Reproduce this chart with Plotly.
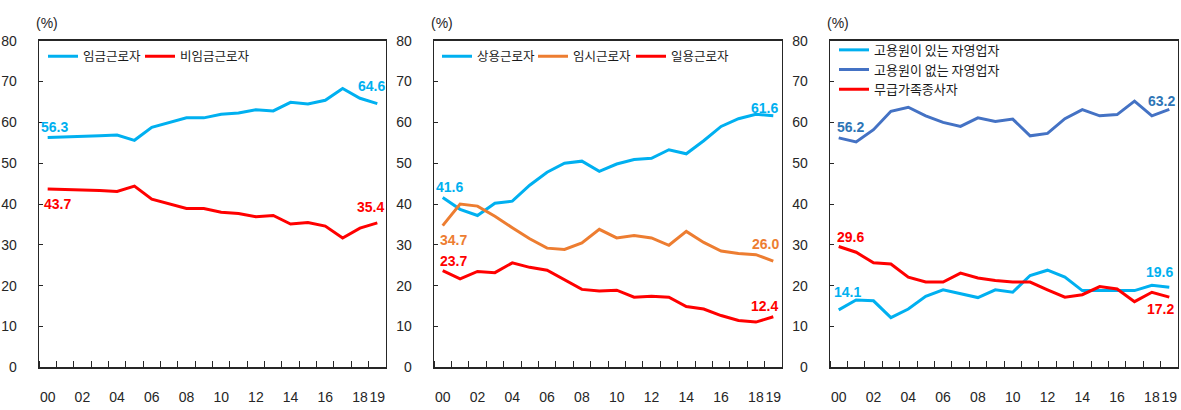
import plotly.graph_objects as go

W, H = 1181, 410

years = list(range(2000, 2020))
tick_years = [2000, 2002, 2004, 2006, 2008, 2010, 2012, 2014, 2016, 2018, 2019]
tick_labels = ["00", "02", "04", "06", "08", "10", "12", "14", "16", "18", "19"]

# Panel 1
wage = [56.3, 56.4, 56.6, 56.7, 56.9, 55.6, 58.8, 59.9, 61.1, 61.1, 62.0, 62.3, 63.1, 62.8, 64.9, 64.5, 65.4, 68.3, 65.9, 64.6]
nonwage = [43.7, 43.6, 43.4, 43.3, 43.1, 44.4, 41.2, 40.1, 38.9, 38.9, 38.0, 37.7, 36.9, 37.2, 35.1, 35.5, 34.6, 31.7, 34.1, 35.4]

# Panel 2
regular = [41.6, 38.7, 37.2, 40.2, 40.7, 44.6, 47.8, 50.0, 50.5, 48.0, 49.8, 50.9, 51.2, 53.3, 52.3, 55.5, 59.0, 60.9, 62.0, 61.6]
temporary = [34.7, 40.0, 39.5, 37.0, 34.2, 31.5, 29.2, 28.9, 30.5, 33.8, 31.7, 32.3, 31.7, 29.9, 33.3, 30.6, 28.5, 27.9, 27.6, 26.0]
daily = [23.7, 21.7, 23.5, 23.2, 25.6, 24.5, 23.8, 21.5, 19.1, 18.7, 18.9, 17.2, 17.4, 17.2, 14.9, 14.3, 12.7, 11.5, 11.1, 12.4]

# Panel 3
with_emp = [14.1, 16.5, 16.3, 12.2, 14.3, 17.4, 19.0, 18.1, 17.1, 19.0, 18.4, 22.5, 23.8, 22.1, 18.8, 18.8, 18.8, 18.8, 20.1, 19.6]
without_emp = [56.2, 55.2, 58.2, 62.7, 63.7, 61.6, 60.0, 59.0, 61.1, 60.2, 60.8, 56.7, 57.3, 60.9, 63.1, 61.6, 61.9, 65.2, 61.6, 63.2]
family = [29.6, 28.2, 25.6, 25.3, 22.1, 20.9, 20.9, 23.1, 21.9, 21.3, 20.9, 20.9, 19.0, 17.2, 17.8, 19.8, 19.2, 16.1, 18.4, 17.2]

SKY = "#00B0F0"
RED = "#FF0000"
ORANGE = "#ED7D31"
BLUE = "#4472C4"
BLUE_TXT = "#2E75B6"

NUM_FONT = "Liberation Sans Narrow, Arial Narrow, Liberation Sans, Arial, sans-serif"
KR_FONT = "Noto Sans CJK KR, sans-serif"

panels = [
    (39, 386),
    (434, 782),
    (830, 1178),
]
top_px, bot_px = 34, 374

fig = go.Figure()

# (panel, name, values, colour, legend line start x px, legend row centre y px)
series = [
    (1, "임금근로자", wage, SKY, 48, 56),
    (1, "비임금근로자", nonwage, RED, 145, 56),
    (2, "상용근로자", regular, SKY, 442, 56),
    (2, "임시근로자", temporary, ORANGE, 538, 56),
    (2, "일용근로자", daily, RED, 636, 56),
    (3, "고용원이 있는 자영업자", with_emp, SKY, 839, 49),
    (3, "고용원이 없는 자영업자", without_emp, BLUE, 839, 69.5),
    (3, "무급가족종사자", family, RED, 839, 90),
]

layout = dict(
    width=W, height=H,
    margin=dict(l=0, r=0, t=0, b=0),
    paper_bgcolor="white", plot_bgcolor="white",
    showlegend=True,
)

for k, (p, name, vals, col, lx, ly) in enumerate(series):
    suf = "" if p == 1 else str(p)
    leg = "legend" if k == 0 else "legend" + str(k + 1)
    fig.add_trace(go.Scatter(
        x=years, y=vals, mode="lines", name=name,
        line=dict(color=col, width=3),
        xaxis="x" + suf, yaxis="y" + suf, legend=leg,
    ))
    layout[leg] = dict(
        font=dict(family=KR_FONT, size=12.5 if p < 3 else 13, color="#1a1a1a"),
        bgcolor="rgba(0,0,0,0)", borderwidth=0,
        itemwidth=30, tracegroupgap=0,
        xanchor="left", yanchor="top",
        x=(lx - 5) / W, y=1 - (ly - 21) / H,
    )

for i, (l, r) in enumerate(panels):
    suf = "" if i == 0 else str(i + 1)
    layout["xaxis" + suf] = dict(
        domain=[l / W, r / W],
        anchor="y" + suf,
        range=[1999.5, 2019.5],
        tickmode="array", tickvals=tick_years, ticktext=tick_labels,
        tickangle=0,
        ticks="", showgrid=False, zeroline=False,
        showline=True, linecolor="#262626", linewidth=1.3, mirror=True,
        tickfont=dict(family=NUM_FONT, size=14, color="#262626"),
        ticklabelstandoff=16,
        minor=dict(ticks="inside", tick0=1999.5, dtick=1, ticklen=6,
                   tickcolor="#262626", tickwidth=1, showgrid=False),
        fixedrange=True,
    )
    layout["yaxis" + suf] = dict(
        domain=[1 - bot_px / H, 1 - top_px / H],
        anchor="x" + suf,
        range=[0, 80], tickmode="linear", tick0=0, dtick=10,
        ticks="inside", ticklen=4, tickcolor="#262626", tickwidth=1,
        showgrid=False, zeroline=False,
        showline=True, linecolor="#262626", linewidth=1.3, mirror=True,
        tickfont=dict(family=NUM_FONT, size=14, color="#262626"),
        ticklabelstandoff=18,
        fixedrange=True,
    )

fig.update_layout(**layout)

# value labels (first and last points)
labels = [
    (1, 2000, wage[0], SKY, 7, 10),
    (1, 2019, wage[-1], SKY, -6, 18),
    (1, 2000, nonwage[0], RED, 10, -15),
    (1, 2019, nonwage[-1], RED, -7, 16),
    (2, 2000, regular[0], SKY, 7, 11),
    (2, 2019, regular[-1], SKY, -9, 8),
    (2, 2000, temporary[0], ORANGE, 11, -14),
    (2, 2019, temporary[-1], ORANGE, -8, 17),
    (2, 2000, daily[0], RED, 11, 10),
    (2, 2019, daily[-1], RED, -9, 11),
    (3, 2000, without_emp[0], BLUE_TXT, 12, 11),
    (3, 2019, without_emp[-1], BLUE_TXT, -8, 8),
    (3, 2000, with_emp[0], SKY, 9, 18),
    (3, 2019, with_emp[-1], SKY, -10, 15),
    (3, 2000, family[0], RED, 12, 10),
    (3, 2019, family[-1], RED, -9, -12),
]
for p, xv, yv, col, dx, dy in labels:
    suf = "" if p == 1 else str(p)
    fig.add_annotation(
        x=xv, y=yv, xref="x" + suf, yref="y" + suf,
        text=f"<b>{yv:.1f}</b>", showarrow=False,
        xshift=dx, yshift=dy,
        font=dict(family=NUM_FONT, size=14, color=col),
    )

for l, r in panels:
    fig.add_annotation(
        x=(l + 7.5) / W, y=1 - 16 / H, xref="paper", yref="paper",
        xanchor="center", yanchor="middle",
        text="(%)", showarrow=False,
        font=dict(family=NUM_FONT, size=14, color="#262626"),
    )

fig.write_html(
    "out.html",
    config={"displayModeBar": False, "staticPlot": True},
    post_script="document.body.style.margin='0';document.body.style.overflow='hidden';",
)
